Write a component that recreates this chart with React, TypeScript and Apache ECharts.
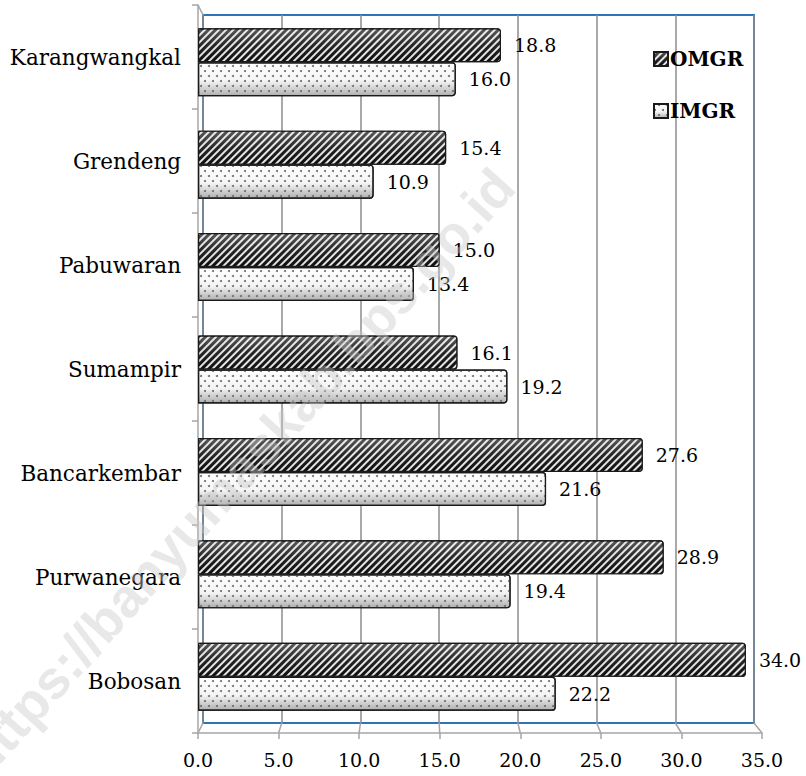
import React, { useEffect, useRef } from "react";
import * as echarts from "echarts";

const categories = [
  "Bobosan",
  "Purwanegara",
  "Bancarkembar",
  "Sumampir",
  "Pabuwaran",
  "Grendeng",
  "Karangwangkal",
];
const omgr = [34.0, 28.9, 27.6, 16.1, 15.0, 15.4, 18.8];
const imgr = [22.2, 19.4, 21.6, 19.2, 13.4, 10.9, 16.0];
const xMin = 0;
const xMax = 35;
const xStep = 5;
const watermark = "https://banyumaskab.bps.go.id";

const FONT = "'DejaVu Serif', serif";

export default function App() {
  const ref = useRef<HTMLDivElement>(null);

  useEffect(() => {
    document.body.style.margin = "0";
    const chart = echarts.init(ref.current!, null, { renderer: "svg" });

    const FRONT = { left: 198, right: 44, top: 5, bottom: 43 };
    const BACK = { left: 203, right: 52, top: 15, bottom: 53 };
    const BARS = { left: 198, right: 44, top: 11, bottom: 48 };
    const H = 776;

    const valueLabel = {
      show: true,
      position: "right",
      distance: 13,
      fontFamily: FONT,
      fontSize: 19,
      color: "#000",
      formatter: (p: any) => Number(p.value).toFixed(1),
    };

    chart.setOption({
      animation: false,
      backgroundColor: "#ffffff",
      aria: { enabled: true, decal: { show: true } },
      grid: [
        {
          ...BACK,
          show: true,
          borderColor: "#2e75b6",
          borderWidth: 2,
          backgroundColor: "transparent",
        },
        { ...FRONT },
        { ...BARS },
      ],
      xAxis: [
        {
          gridIndex: 0,
          type: "value",
          min: xMin,
          max: xMax,
          interval: xStep,
          axisLine: { show: false },
          axisTick: { show: false },
          axisLabel: { show: false },
          splitLine: { show: true, lineStyle: { color: "#8c8c8c", width: 1.5 } },
        },
        {
          gridIndex: 1,
          type: "value",
          min: xMin,
          max: xMax,
          interval: xStep,
          axisLine: { show: true, lineStyle: { color: "#a6a6a6", width: 1.5 } },
          axisTick: { show: true, length: 6, lineStyle: { color: "#a6a6a6", width: 1.5 } },
          axisLabel: {
            margin: 17,
            fontFamily: FONT,
            fontSize: 19,
            color: "#000",
            formatter: (v: number) => v.toFixed(1),
          },
          splitLine: { show: false },
        },
        {
          gridIndex: 2,
          type: "value",
          min: xMin,
          max: xMax,
          interval: xStep,
          show: false,
        },
      ],
      yAxis: [
        {
          gridIndex: 0,
          type: "category",
          data: categories,
          show: false,
        },
        {
          gridIndex: 1,
          type: "category",
          data: categories,
          axisLine: { show: true, lineStyle: { color: "#a6a6a6", width: 1.5 } },
          axisTick: { show: true, length: 6, lineStyle: { color: "#a6a6a6", width: 1.5 } },
          axisLabel: {
            margin: 17,
            fontFamily: FONT,
            fontSize: 21.5,
            color: "#000",
            padding: [8, 0, 0, 0],
          },
          splitLine: { show: false },
        },
        {
          gridIndex: 2,
          type: "category",
          data: categories,
          show: false,
        },
      ],
      legend: {
        orient: "vertical",
        left: 648,
        top: 44,
        itemGap: 32,
        itemWidth: 14,
        itemHeight: 14,
        icon: "rect",
        textStyle: {
          fontFamily: FONT,
          fontSize: 20,
          fontWeight: "bold",
          color: "#000",
          padding: [0, 0, 0, -3],
        },
        data: ["OMGR", "IMGR"],
      },
      series: [
        {
          name: "OMGR",
          type: "bar",
          xAxisIndex: 2,
          yAxisIndex: 2,
          data: omgr,
          barWidth: 34,
          barGap: "0%",
          itemStyle: {
            color: new echarts.graphic.LinearGradient(0, 0, 0, 1, [
              { offset: 0, color: "#5a5a5a" },
              { offset: 0.5, color: "#262626" },
              { offset: 1, color: "#0e0e0e" },
            ]),
            borderColor: "#1a1a1a",
            borderWidth: 1.2,
            borderRadius: [0, 3, 3, 0],
            decal: {
              symbol: "rect",
              symbolSize: 1,
              color: "rgba(255,255,255,0.88)",
              dashArrayX: [1, 0],
              dashArrayY: [2, 3],
              rotation: -Math.PI / 4,
            },
          },
          label: valueLabel,
        },
        {
          name: "IMGR",
          type: "bar",
          xAxisIndex: 2,
          yAxisIndex: 2,
          data: imgr,
          barWidth: 34,
          barGap: "0%",
          itemStyle: {
            color: new echarts.graphic.LinearGradient(0, 0, 0, 1, [
              { offset: 0, color: "#ffffff" },
              { offset: 0.55, color: "#f4f4f4" },
              { offset: 1, color: "#b0b0b0" },
            ]),
            borderColor: "#1a1a1a",
            borderWidth: 1.2,
            borderRadius: [0, 3, 3, 0],
            decal: {
              symbol: "circle",
              symbolSize: 1,
              color: "#6a6a6a",
              dashArrayX: [
                [2, 6],
                [0, 4, 2, 2],
              ],
              dashArrayY: [2, 3],
              rotation: 0,
            },
          },
          label: valueLabel,
        },
      ],
    });

    // 3D floor / corner connector lines, computed from the two axes' scales
    const els: any[] = [];
    const frontBottom = H - FRONT.bottom;
    const backBottom = H - BACK.bottom;
    for (let v = xMin; v <= xMax; v += xStep) {
      const fx = chart.convertToPixel({ xAxisIndex: 1 }, v) as number;
      const bx = chart.convertToPixel({ xAxisIndex: 0 }, v) as number;
      els.push({
        type: "line",
        shape: { x1: fx, y1: frontBottom, x2: bx, y2: backBottom },
        style: { stroke: "#a6a6a6", lineWidth: 1.5 },
        silent: true,
      });
    }
    els.push({
      type: "line",
      shape: { x1: FRONT.left, y1: FRONT.top, x2: BACK.left, y2: BACK.top },
      style: { stroke: "#a6a6a6", lineWidth: 1.5 },
      silent: true,
    });
    els.push({
      type: "text",
      x: 238,
      y: 472,
      rotation: (48 * Math.PI) / 180,
      silent: true,
      z: 100,
      style: {
        text: watermark,
        fontFamily: "'Liberation Sans', Arial, sans-serif",
        fontWeight: "bold",
        fontSize: 54,
        fill: "rgba(200,200,200,0.42)",
        align: "center",
        verticalAlign: "middle",
      },
    });
    chart.setOption({ graphic: { elements: els } });

    return () => chart.dispose();
  }, []);

  return <div ref={ref} style={{ width: 806, height: 776 }} />;
}
